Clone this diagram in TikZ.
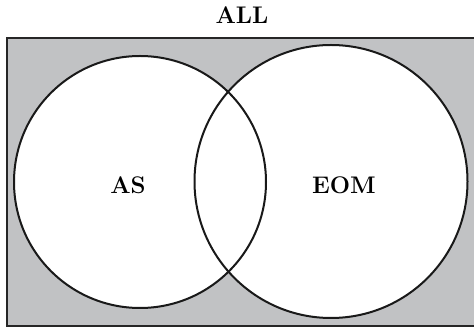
\documentclass[tikz,border=0pt]{standalone}
\usepackage{fontspec}
\usepackage{xcolor}
\definecolor{bggray}{RGB}{193,194,196}
\begin{document}
\begin{tikzpicture}[x=1pt,y=1pt,
  lbl/.style={font=\fontsize{24}{28}\selectfont\bfseries, inner sep=0pt},
  setline/.style={draw=black!90, line width=2pt}]
\useasboundingbox (0,0) rectangle (474,329);
\draw[fill=bggray, draw=black!85, line width=2.4pt] (7,3) rectangle (477,291);
\fill[white] (140,147) circle[radius=126];
\fill[white] (331,147.5) circle[radius=136.5];
\draw[setline] (140,147) circle[radius=126];
\draw[setline] (331,147.5) circle[radius=136.5];
\node[lbl] (all) at (242,314) {ALL};
\node[lbl] (as) at (128,144) {AS};
\node[lbl] (eom) at (344,144) {EOM};
\end{tikzpicture}
\end{document}
